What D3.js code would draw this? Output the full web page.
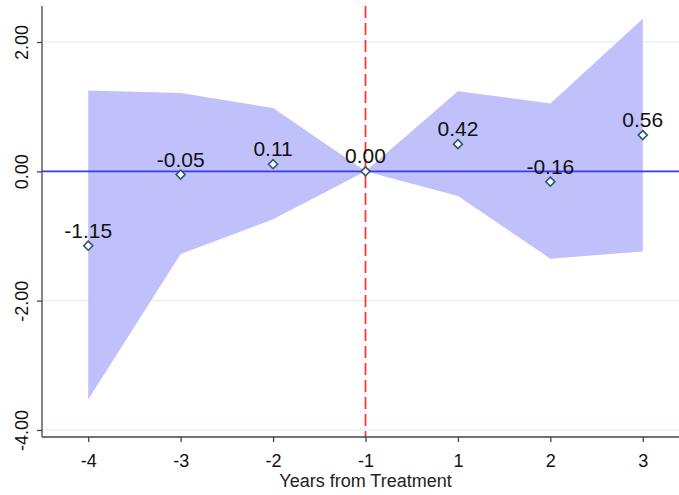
<!DOCTYPE html>
<html>
<head>
<meta charset="utf-8">
<script src="https://cdn.jsdelivr.net/npm/d3@7.9.0/dist/d3.min.js"></script>
<style>
  body { margin: 0; background: #fff; }
  svg { display: block; font-family: Arial, "Liberation Sans", sans-serif; }
</style>
</head>
<body>
<svg id="chart" width="679" height="495"></svg>
<script>
// event-study estimates
const years = ['-4', '-3', '-2', '-1', '1', '2', '3'];
const coefs = [-1.15, -0.05, 0.11, 0.00, 0.42, -0.16, 0.56];
const ciLow = [-3.53, -1.28, -0.74, 0.00, -0.38, -1.35, -1.24];
const ciHigh = [1.25, 1.21, 0.98, 0.00, 1.24, 1.05, 2.36];
const yTicks = [2, 0, -2, -4];

const svg = d3.select('#chart');
const fmt = (d) => d.toFixed(2);

let x = d3.scaleLinear().domain([-0.5, 6.5]).range([42, 689]);
let y = d3.scaleLinear().domain([-4, 2]).range([430, 42]);

const plotTop = 6, plotBottom = 437, plotLeft = 42;

// light gridlines
svg.append('g')
  .selectAll('line')
  .data(yTicks)
  .join('line')
  .attr('x1', plotLeft).attr('x2', 679)
  .attr('y1', (d) => y(d)).attr('y2', (d) => y(d))
  .attr('stroke', '#e6f0f0')
  .attr('stroke-width', 1.3);

// confidence band
let area = d3.area()
  .x((d, i) => x(i))
  .y0((d, i) => y(ciLow[i]))
  .y1((d, i) => y(ciHigh[i]));

svg.append('path')
  .datum(years)
  .attr('d', area)
  .attr('fill', '#c0c0fa');

// zero line
svg.append('line')
  .attr('x1', plotLeft).attr('x2', 679)
  .attr('y1', y(0)).attr('y2', y(0))
  .attr('stroke', '#3a3af5')
  .attr('stroke-width', 1.8);

// treatment line
svg.append('line')
  .attr('x1', x(3)).attr('x2', x(3))
  .attr('y1', plotTop).attr('y2', plotBottom)
  .attr('stroke', '#f23c3c')
  .attr('stroke-width', 1.8)
  .attr('stroke-dasharray', '12,5');

// axes
let xAxis = d3.axisBottom(x)
  .tickValues(d3.range(years.length))
  .tickFormat((i) => years[i])
  .tickSize(5);

let gx = svg.append('g')
  .attr('transform', `translate(0,${plotBottom})`)
  .call(xAxis);
gx.select('.domain').attr('d', `M${plotLeft},0H679`).attr('stroke', '#444').attr('stroke-width', 1.3);
gx.selectAll('.tick line').attr('stroke', '#444').attr('stroke-width', 1.3);
gx.selectAll('.tick text')
  .attr('y', 30).attr('dy', null)
  .attr('font-size', 18)
  .attr('fill', '#111')
  .attr('font-family', 'Arial, "Liberation Sans", sans-serif');

let yAxis = d3.axisLeft(y)
  .tickValues(yTicks)
  .tickFormat(fmt)
  .tickSize(5);

let gy = svg.append('g')
  .attr('transform', `translate(${plotLeft},0)`)
  .call(yAxis);
gy.select('.domain').attr('d', `M0,${plotTop}V${plotBottom}`).attr('stroke', '#444').attr('stroke-width', 1.3);
gy.selectAll('.tick line').attr('stroke', '#444').attr('stroke-width', 1.3);
gy.selectAll('.tick text')
  .attr('x', null).attr('dy', null)
  .attr('transform', 'translate(-14,0) rotate(-90)')
  .attr('text-anchor', 'middle')
  .attr('font-size', 18)
  .attr('fill', '#111')
  .attr('font-family', 'Arial, "Liberation Sans", sans-serif');

// x title
svg.append('text')
  .attr('x', x(3))
  .attr('y', 487)
  .attr('text-anchor', 'middle')
  .attr('font-size', 18)
  .attr('fill', '#222')
  .text('Years from Treatment');

// markers
let diamond = d3.symbol().type(d3.symbolDiamond2).size(52);

svg.append('g')
  .selectAll('path')
  .data(coefs)
  .join('path')
  .attr('d', diamond)
  .attr('transform', (d, i) => `translate(${x(i)},${y(d)})`)
  .attr('fill', '#fff')
  .attr('stroke', '#2d5a6a')
  .attr('stroke-width', 1.6);

// value labels
svg.append('g')
  .selectAll('text')
  .data(coefs)
  .join('text')
  .attr('x', (d, i) => x(i))
  .attr('y', (d) => y(d) - 8)
  .attr('text-anchor', 'middle')
  .attr('font-size', 21)
  .attr('fill', '#111')
  .text(fmt);
</script>
</body>
</html>
